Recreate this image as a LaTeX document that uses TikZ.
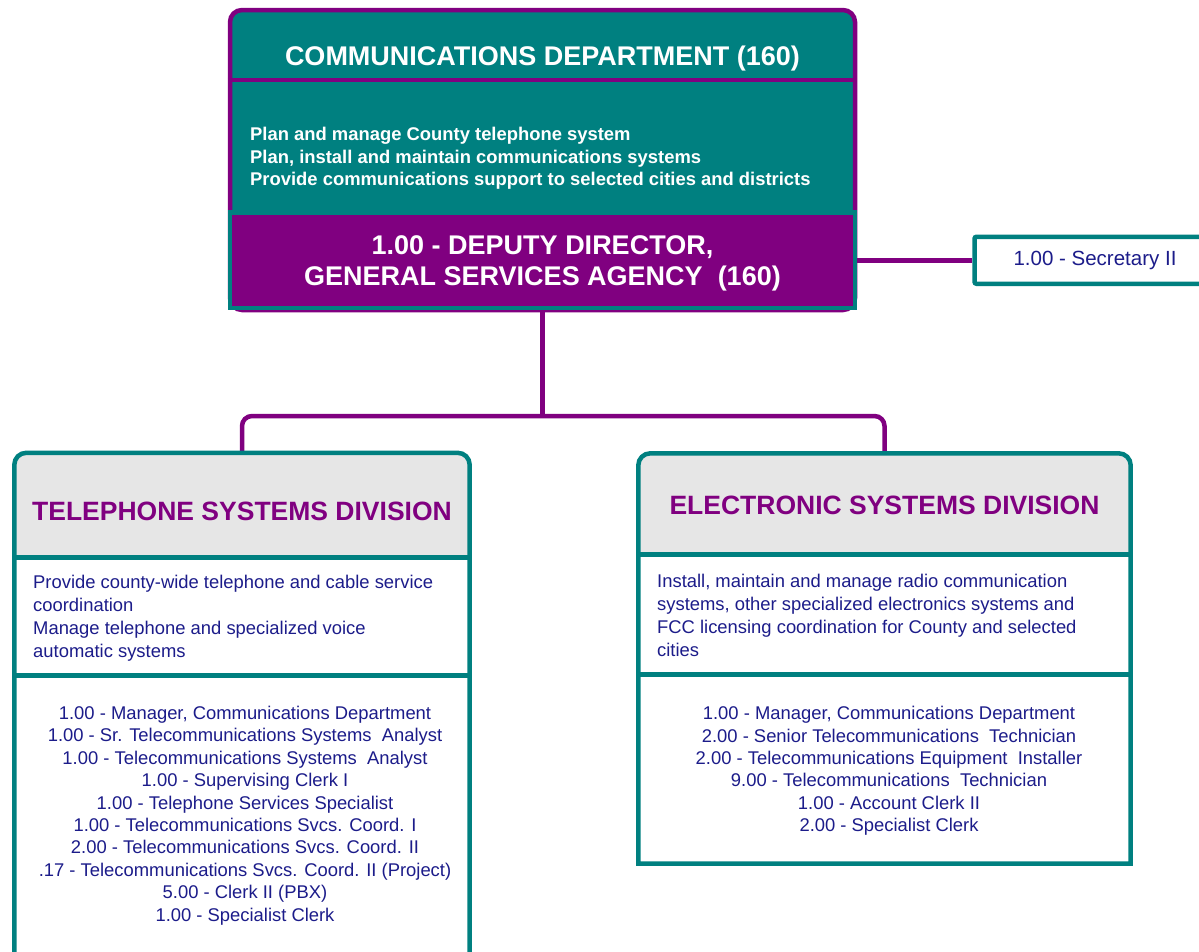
\documentclass[tikz,border=0pt]{standalone}
\usepackage{fontspec}
\setmainfont{Liberation Sans}
\usetikzlibrary{calc}
\definecolor{cteal}{HTML}{008080}
\definecolor{cpurp}{HTML}{800080}
\definecolor{cnavy}{HTML}{1C1C8A}
\definecolor{cgray}{HTML}{E6E6E6}
\begin{document}
\begin{tikzpicture}[x=1pt,y=-1pt,
  purpline/.style={draw=cpurp, line width=4.5pt},
  tealline/.style={draw=cteal, line width=4.5pt},
  deptframe/.style={draw=cpurp, fill=cteal, line width=4.5pt, rounded corners=12pt,
    minimum width=625pt, minimum height=300pt, inner sep=0pt},
  bigbold/.style={font=\fontsize{27}{31}\selectfont\bfseries, align=center, inner sep=0pt},
  bodytext/.style={font=\fontsize{18.4}{22.5}\selectfont\bfseries, text=white, align=left, inner sep=0pt},
  deputybox/.style={bigbold, fill=cpurp, draw=cteal, line width=4.5pt,
    minimum width=625pt, minimum height=95.5pt, text=white},
  secbox/.style={fill=white, draw=cteal, line width=4.5pt, rounded corners=2pt,
    minimum width=241pt, minimum height=47pt, text=cnavy, font=\fontsize{20.5}{24}\selectfont},
  divarea/.style={draw=none, inner sep=0pt},
  divhead/.style={font=\fontsize{26.5}{31}\selectfont\bfseries, align=center, inner sep=0pt, text=cpurp},
  desctext/.style={font=\fontsize{18.4}{23}\selectfont, text=cnavy, align=left, inner sep=0pt},
  listtext/.style={font=\fontsize{18.4}{22.4}\selectfont, text=cnavy, align=center, inner sep=0pt}
]
\useasboundingbox (0,0) rectangle (1199,951);

% ---------- department box ----------
\node[deptframe] (dept) at (542.5,160) {};
\draw[purpline] (dept.west |- 0,80) -- (dept.east |- 0,80);
\node[bigbold, text=white] (title) at (542.5,59) {COMMUNICATIONS DEPARTMENT (160)};
\node[bodytext, anchor=west] (body) at (250,158.5)
  {Plan and manage County telephone system\\
   Plan, install and maintain communications systems\\
   Provide communications support to selected cities and districts};
\node[deputybox] (deputy) at (542.5,260.25)
  {\rule{0pt}{25.5pt}1.00 - DEPUTY DIRECTOR,\\GENERAL SERVICES AGENCY\ \ (160)};

% ---------- secretary ----------
\node[secbox] (sec) at (1095,260.25) {1.00 - Secretary II};
\draw[purpline] (deputy.east) -- (sec.west);

% ---------- division areas ----------
\node[divarea, minimum width=455pt, minimum height=547pt] (tel) at (242,726.5) {};
\node[divarea, minimum width=492pt, minimum height=410pt] (elec) at (884.5,658.5) {};

% ---------- connectors ----------
\coordinate (bus) at (542.5,416);
\draw[purpline] (deputy.south) -- (bus);
\draw[purpline, rounded corners=10pt] (tel.north) -- (tel.north |- bus) -- (elec.north |- bus) -- (elec.north);

% ---------- telephone division ----------
\fill[white] (tel.south west) -- ($(tel.north west)+(0,12)$) arc[start angle=180,end angle=90,radius=12pt]
  -- ($(tel.north east)+(-12,0)$) arc[start angle=90,end angle=0,radius=12pt] -- (tel.south east) -- cycle;
\fill[cgray] (tel.west |- 0,557.5) -- ($(tel.north west)+(0,12)$) arc[start angle=180,end angle=90,radius=12pt]
  -- ($(tel.north east)+(-12,0)$) arc[start angle=90,end angle=0,radius=12pt] -- (tel.east |- 0,557.5) -- cycle;
\draw[tealline] (tel.west |- 0,557.5) -- (tel.east |- 0,557.5);
\draw[tealline] (tel.west |- 0,675.5) -- (tel.east |- 0,675.5);
\draw[tealline] (tel.south west) -- ($(tel.north west)+(0,12)$) arc[start angle=180,end angle=90,radius=12pt]
  -- ($(tel.north east)+(-12,0)$) arc[start angle=90,end angle=0,radius=12pt] -- (tel.south east);
\node[divhead] (telhead) at (242,511) {TELEPHONE SYSTEMS DIVISION};
\node[desctext, anchor=west] (teldesc) at (33,618.5)
  {Provide county-wide telephone and cable service\\
   coordination\\
   Manage telephone and specialized voice\\
   automatic systems};
\node[listtext] (tellist) at (245,815.5)
  {1.00 - Manager, Communications Department\\
   1.00 - Sr. Telecommunications Systems\ \ Analyst\\
   1.00 - Telecommunications Systems\ \ Analyst\\
   1.00 - Supervising Clerk I\\
   1.00 - Telephone Services Specialist\\
   1.00 - Telecommunications Svcs. Coord. I\\
   2.00 - Telecommunications Svcs. Coord. II\\
   .17 - Telecommunications Svcs. Coord. II (Project)\\
   5.00 - Clerk II (PBX)\\
   1.00 - Specialist Clerk};

% ---------- electronic division ----------
\fill[white] (elec.south west) -- ($(elec.north west)+(0,12)$) arc[start angle=180,end angle=90,radius=12pt]
  -- ($(elec.north east)+(-12,0)$) arc[start angle=90,end angle=0,radius=12pt] -- (elec.south east) -- cycle;
\fill[cgray] (elec.west |- 0,554.5) -- ($(elec.north west)+(0,12)$) arc[start angle=180,end angle=90,radius=12pt]
  -- ($(elec.north east)+(-12,0)$) arc[start angle=90,end angle=0,radius=12pt] -- (elec.east |- 0,554.5) -- cycle;
\draw[tealline] (elec.west |- 0,554.5) -- (elec.east |- 0,554.5);
\draw[tealline] (elec.west |- 0,674.5) -- (elec.east |- 0,674.5);
\draw[tealline] (elec.south west) -- ($(elec.north west)+(0,12)$) arc[start angle=180,end angle=90,radius=12pt]
  -- ($(elec.north east)+(-12,0)$) arc[start angle=90,end angle=0,radius=12pt] -- (elec.south east) -- cycle;
\node[divhead] (elechead) at (884.5,505) {ELECTRONIC SYSTEMS DIVISION};
\node[desctext, anchor=west] (elecdesc) at (657,615)
  {Install, maintain and manage radio communication\\
   systems, other specialized electronics systems and\\
   FCC licensing coordination for County and selected\\
   cities};
\node[listtext] (eleclist) at (889,771)
  {1.00 - Manager, Communications Department\\
   2.00 - Senior Telecommunications\ \ Technician\\
   2.00 - Telecommunications Equipment\ \ Installer\\
   9.00 - Telecommunications\ \ Technician\\
   1.00 - Account Clerk II\\
   2.00 - Specialist Clerk};
\end{tikzpicture}
\end{document}
